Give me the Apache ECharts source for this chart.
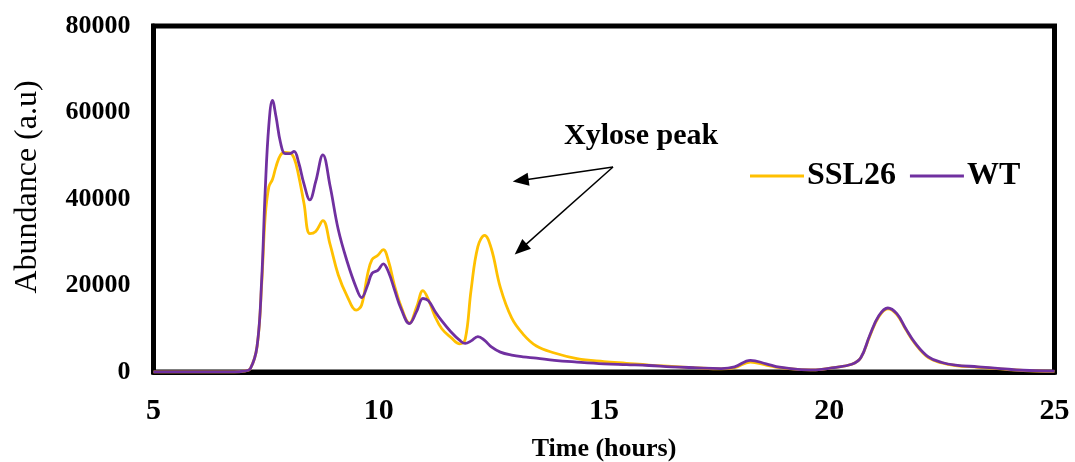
<!DOCTYPE html>
<html>
<head>
<meta charset="utf-8">
<title>Abundance vs time</title>
<script src="https://cdn.jsdelivr.net/npm/echarts@6/dist/echarts.min.js"></script>
<style>
    html, body { margin: 0; padding: 0; background: #fff; }
    #main { width: 1075px; height: 462px; }
</style>
</head>
<body>
<div id="main"></div>
<script>
// 时间 (hours)
var times = [5, 6, 6.8, 7.0, 7.15, 7.3, 7.4, 7.48, 7.56, 7.64, 7.72, 7.82, 7.92, 8.02, 8.12, 8.22,
    8.34, 8.47, 8.6, 8.76, 8.92, 9.1, 9.3, 9.5, 9.62, 9.75, 9.85, 9.98, 10.1, 10.22, 10.35, 10.5,
    10.68, 10.84, 10.98, 11.1, 11.25, 11.4, 11.6, 11.8, 11.92, 12.05, 12.2, 12.35, 12.5, 12.7,
    12.95, 13.2, 13.5, 13.9, 14.4, 15, 15.5, 16, 16.5, 17, 17.6, 17.9, 18.25, 18.6, 18.9, 19.3,
    19.7, 20.1, 20.5, 20.7, 20.9, 21.1, 21.3, 21.5, 21.7, 21.9, 22.2, 22.5, 22.8, 23.3, 23.8, 24.3, 25];

var ssl26 = [0, 0, 0, 200, 800, 6000, 20000, 36000, 42800, 44500, 47500, 50200, 50800, 50700, 49500, 45500,
    39000, 32000, 32500, 35000, 29500, 22500, 17500, 14300, 15500, 22500, 26000, 27000, 28300, 25500, 20000, 15000,
    11300, 15000, 18800, 16800, 12800, 10000, 8000, 6500, 7600, 19000, 29000, 31600, 28500, 19500,
    12500, 8800, 6000, 4400, 3100, 2400, 2000, 1600, 1300, 1000, 700, 1000, 2300, 1600, 1000, 600,
    500, 1000, 1800, 3300, 8300, 12800, 14600, 13300, 9800, 6600, 3300, 2100, 1500, 1100, 700, 350, 150];

var wt = [0, 0, 0, 200, 800, 6000, 21000, 42000, 57000, 62800, 59000, 53000, 50500, 50500, 51000, 48500,
    43500, 39800, 44000, 50200, 43000, 33000, 25500, 19500, 17200, 20000, 22800, 23500, 25000, 23000, 19000, 14500,
    11200, 14000, 17000, 16500, 14000, 11800, 9300, 7300, 6600, 7200, 8200, 7300, 5800, 4600,
    3900, 3500, 3200, 2700, 2300, 1900, 1700, 1500, 1200, 1000, 800, 1200, 2700, 1900, 1100, 600,
    500, 1000, 1800, 3300, 8500, 13000, 14800, 13500, 10000, 6800, 3500, 2200, 1600, 1200, 800, 400, 200];

var seriesNames = ['SSL26', 'WT'];
var seriesColors = ['#FFC000', '#7030A0'];

// 箭头: 起点 -> 终点 (时间, 丰度)
var arrowStart = [15.2, 47400];
var arrowEnds = [[13.15, 44300], [13.15, 28400]];

function pairs(xs, ys) {
    return xs.map(function (x, i) { return [x, ys[i]]; });
}

var font = "'Liberation Serif', 'Times New Roman', serif";
var myChart = echarts.init(document.getElementById('main'));

var option = {
    backgroundColor: '#fff',
    animation: false,
    grid: {
        left: 153.5,
        right: 20.5,
        top: 26,
        bottom: 90,
        outerBoundsMode: 'none',
        show: true,
        borderColor: '#000',
        borderWidth: 5
    },
    legend: {
        data: seriesNames,
        left: 745,
        top: 155,
        icon: 'rect',
        itemWidth: 54,
        itemHeight: 3,
        itemGap: 14,
        textStyle: {
            fontFamily: font,
            fontWeight: 'bold',
            fontSize: 32,
            color: '#000',
            padding: [0, 0, 0, -2]
        }
    },
    graphic: [{
        type: 'text',
        left: 564,
        top: 121,
        style: {
            text: 'Xylose peak',
            font: "bold 30px 'Liberation Serif', 'Times New Roman', serif",
            fill: '#000'
        }
    }],
    xAxis: {
        type: 'value',
        min: 5,
        max: 25,
        interval: 5,
        name: 'Time (hours)',
        nameLocation: 'middle',
        nameGap: 64,
        nameTextStyle: {
            fontFamily: font,
            fontWeight: 'bold',
            fontSize: 26,
            color: '#000'
        },
        axisLine: { lineStyle: { color: '#000', width: 5 } },
        axisTick: { show: false },
        splitLine: { show: false },
        axisLabel: {
            margin: 24,
            fontFamily: font,
            fontWeight: 'bold',
            fontSize: 30,
            color: '#000'
        }
    },
    yAxis: {
        type: 'value',
        min: 0,
        max: 80000,
        interval: 20000,
        name: 'Abundance (a.u)',
        nameLocation: 'middle',
        nameGap: 110,
        nameTextStyle: {
            fontFamily: font,
            fontSize: 32,
            color: '#000',
            padding: [0, 0, 0, 24]
        },
        axisLine: { show: true, lineStyle: { color: '#000', width: 5 } },
        axisTick: { show: false },
        splitLine: { show: false },
        axisLabel: {
            margin: 23,
            fontFamily: font,
            fontWeight: 'bold',
            fontSize: 26,
            color: '#000',
            formatter: function (v) { return String(v); }
        }
    },
    series: [
        {
            name: seriesNames[0],
            type: 'line',
            data: pairs(times, ssl26),
            smooth: 0.4,
            symbol: 'none',
            lineStyle: { color: seriesColors[0], width: 2.8 },
            itemStyle: { color: seriesColors[0] },
            markLine: {
                silent: true,
                symbol: ['none', 'triangle'],
                symbolSize: [13, 16],
                label: { show: false },
                lineStyle: { color: '#000', width: 1.5, type: 'solid' },
                data: arrowEnds.map(function (end) {
                    return [{ coord: arrowStart }, { coord: end }];
                })
            }
        },
        {
            name: seriesNames[1],
            type: 'line',
            data: pairs(times, wt),
            smooth: 0.4,
            symbol: 'none',
            lineStyle: { color: seriesColors[1], width: 2.8 },
            itemStyle: { color: seriesColors[1] }
        }
    ]
};
myChart.setOption(option);
</script>
</body>
</html>
